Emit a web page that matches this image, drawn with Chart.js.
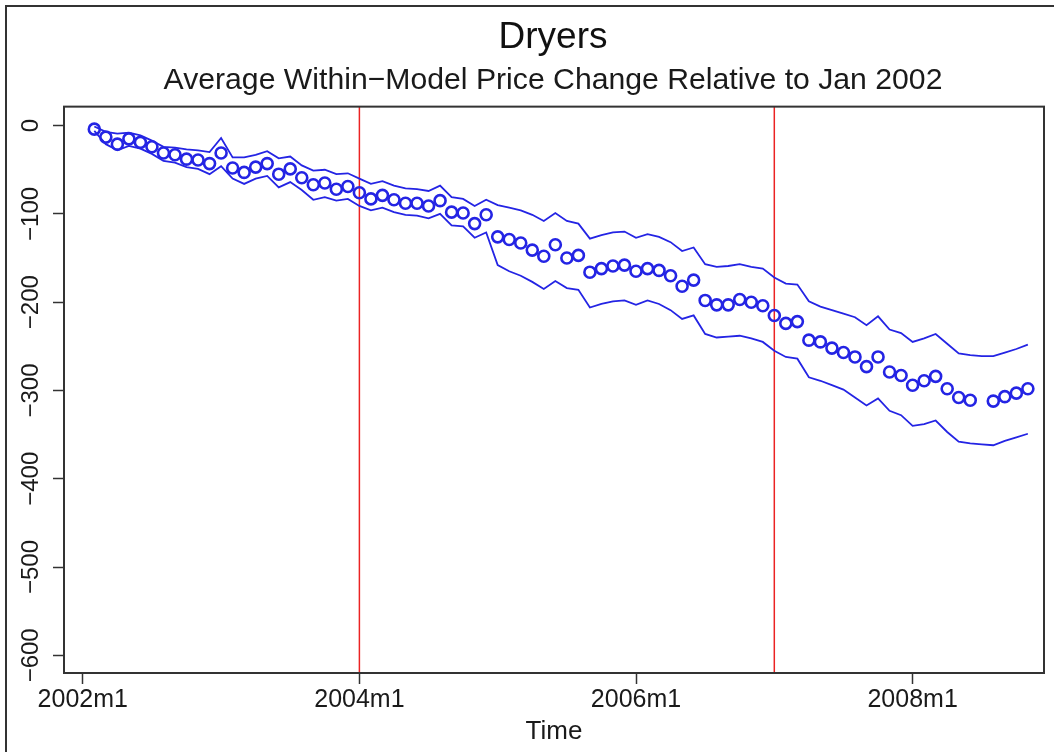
<!DOCTYPE html>
<html>
<head>
<meta charset="utf-8">
<script src="https://cdn.jsdelivr.net/npm/chart.js@4"></script>
<style>
html,body{margin:0;padding:0;background:#fff;}
#wrap{position:relative;width:1054px;height:752px;}
</style>
</head>
<body>
<div id="wrap"><canvas id="c" width="1054" height="752"></canvas></div>
<script>
// Months since 2002m1 (1 = 2002m2 ... 82 = 2008m11)
const monthOffsets = Array.from({length: 82}, (_, i) => i + 1);
const categories = monthOffsets.map(m => (2002 + Math.floor(m / 12)) + 'm' + (m % 12 + 1));

// Average within-model price change relative to Jan 2002 (null = not shown)
const priceChange = [
  -4,-13,-21,-15,-19,-24,-31,-33,-38,-39,
  -43,-31,-48,-53,-47,-43,-55,-49,-59,-67,
  -65,-72,-69,-76,-83,-79,-84,-88,-88,-91,
  -85,-98,-99,-111,-101,-126,-129,-133,-141,-148,
  -135,-150,-147,-166,-162,-159,-158,-165,-162,-164,
  -170,-182,-175,-198,-203,-203,-197,-200,-204,-215,
  -224,-222,-243,-245,-252,-257,-262,-273,-262,-279,
  -283,-294,-289,-284,-298,-308,-311,null,-312,-307,
  -303,-298
];
const upperBand = [
  -1,-7,-9,-8,-11,-17,-24,-25,-27,-28,
  -30,-14,-36,-36,-33,-29,-37,-35,-45,-51,
  -50,-55,-54,-60,-66,-63,-68,-71,-72,-74,
  -68,-81,-83,-91,-84,-90,-93,-96,-101,-108,
  -99,-108,-111,-128,-124,-121,-120,-127,-123,-126,
  -132,-142,-138,-157,-160,-159,-157,-160,-162,-172,
  -179,-180,-199,-205,-209,-213,-217,-226,-216,-231,
  -235,-245,-241,-236,-247,-258,-260,-261,-261,-257,
  -253,-248
];
const lowerBand = [
  -6,-21,-28,-23,-26,-32,-40,-42,-47,-49,
  -55,-46,-60,-66,-60,-57,-70,-64,-73,-84,
  -81,-85,-83,-91,-96,-93,-98,-101,-102,-105,
  -100,-113,-114,-127,-121,-158,-165,-170,-177,-185,
  -176,-184,-186,-206,-202,-199,-198,-203,-198,-202,
  -209,-219,-215,-236,-240,-239,-238,-241,-245,-255,
  -262,-264,-285,-289,-294,-299,-308,-317,-309,-323,
  -328,-340,-338,-334,-347,-358,-360,-361,-362,-357,
  -353,-349
];
const xTickValues = [0, 24, 48, 72];
const xTickLabels = ['2002m1', '2004m1', '2006m1', '2008m1'];
const yTickValues = [0, -100, -200, -300, -400, -500, -600];
const yTickLabels = ['0', '\u2212100', '\u2212200', '\u2212300', '\u2212400', '\u2212500', '\u2212600'];
const eventMonths = [24, 60]; // 2004m1, 2007m1

const FONT = "'Liberation Sans', Arial, Helvetica, sans-serif";
const BLUE = 'rgb(36,36,228)';
const RED = 'rgb(235,35,35)';
const Y_MIN = -620, Y_MAX = 21.5;
const X_MIN = -1.63, X_MAX = 83.4;

const toXY = arr => arr.map((v, i) => ({x: monthOffsets[i], y: v}));

const datasets = [];
eventMonths.forEach(m => datasets.push({
  type: 'line', data: [{x: m, y: Y_MAX}, {x: m, y: Y_MIN}],
  borderColor: RED, borderWidth: 1.5, pointRadius: 0, showLine: true, order: 3
}));
datasets.push({
  type: 'line', label: 'upper', data: toXY(upperBand), borderColor: BLUE,
  borderWidth: 1.8, pointRadius: 0, tension: 0, fill: false, showLine: true, order: 2
});
datasets.push({
  type: 'line', label: 'lower', data: toXY(lowerBand), borderColor: BLUE,
  borderWidth: 1.8, pointRadius: 0, tension: 0, fill: false, showLine: true, order: 2
});
datasets.push({
  type: 'scatter', label: 'price change', data: toXY(priceChange),
  borderColor: BLUE, backgroundColor: 'rgba(0,0,0,0)', pointRadius: 5.5,
  pointBorderWidth: 2.6, borderWidth: 2.6, showLine: false, order: 1
});

const framePlugin = {
  id: 'frame',
  beforeDraw(chart) {
    const ctx = chart.ctx;
    ctx.save();
    ctx.fillStyle = '#fff';
    ctx.fillRect(0, 0, chart.width, chart.height);
    ctx.strokeStyle = '#333';
    ctx.lineWidth = 2;
    ctx.beginPath();
    ctx.moveTo(6, chart.height);
    ctx.lineTo(6, 6);
    ctx.lineTo(chart.width, 6);
    ctx.stroke();
    ctx.restore();
  },
  afterDatasetsDraw(chart) {
    const {ctx, chartArea: a} = chart;
    ctx.save();
    ctx.strokeStyle = '#333';
    ctx.lineWidth = 2;
    ctx.strokeRect(a.left, a.top, a.right - a.left, a.bottom - a.top);
    ctx.restore();
  },
  afterDraw(chart) {
    const ctx = chart.ctx;
    const ys = chart.scales.y;
    ctx.save();
    ctx.fillStyle = '#1a1a1a';
    ctx.font = '24px ' + FONT;
    ctx.textAlign = 'center';
    ctx.textBaseline = 'alphabetic';
    yTickValues.forEach((v, i) => {
      const py = ys.getPixelForValue(v);
      ctx.save();
      ctx.translate(38, py);
      ctx.rotate(-Math.PI / 2);
      ctx.fillText(yTickLabels[i], 0, 0);
      ctx.restore();
    });
    ctx.restore();
  }
};

new Chart(document.getElementById('c'), {
  type: 'scatter',
  data: {datasets},
  options: {
    responsive: false,
    animation: false,
    events: [],
    layout: {padding: {left: 62, right: 10, top: 0, bottom: 0}},
    plugins: {
      legend: {display: false},
      tooltip: {enabled: false},
      title: {
        display: true, text: 'Dryers', color: '#111',
        font: {family: FONT, size: 37, weight: 'normal', lineHeight: 1.2},
        padding: {top: 16, bottom: 2}
      },
      subtitle: {
        display: true, text: 'Average Within\u2212Model Price Change Relative to Jan 2002', color: '#1a1a1a',
        font: {family: FONT, size: 30.2, weight: 'normal', lineHeight: 1.2},
        padding: {top: 0, bottom: 8}
      }
    },
    scales: {
      x: {
        type: 'linear', min: X_MIN, max: X_MAX,
        afterBuildTicks(scale) { scale.ticks = xTickValues.map(v => ({value: v})); },
        afterFit(scale) { scale.height = 79; },
        ticks: {
          autoSkip: false, maxRotation: 0, minRotation: 0, padding: 1,
          color: '#1a1a1a', font: {family: FONT, size: 25},
          callback(value) { const i = xTickValues.indexOf(value); return i >= 0 ? xTickLabels[i] : ''; }
        },
        grid: {drawOnChartArea: false, drawTicks: true, tickLength: 11, tickWidth: 1.5, tickColor: '#333'},
        border: {display: false},
        title: {display: true, text: 'Time', color: '#1a1a1a', font: {family: FONT, size: 26}, padding: {top: 0, bottom: 5}}
      },
      y: {
        type: 'linear', min: Y_MIN, max: Y_MAX,
        afterBuildTicks(scale) { scale.ticks = yTickValues.map(v => ({value: v})); },
        afterFit(scale) { scale.width = 2; },
        ticks: {display: false},
        grid: {drawOnChartArea: false, drawTicks: true, tickLength: 11, tickWidth: 1.5, tickColor: '#333'},
        border: {display: false}
      }
    }
  },
  plugins: [framePlugin]
});
</script>
</body>
</html>
